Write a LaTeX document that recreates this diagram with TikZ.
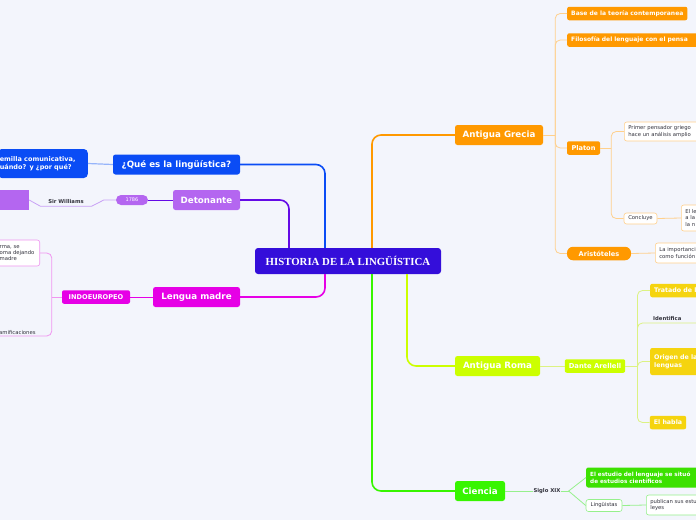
\documentclass[tikz,border=0pt]{standalone}
\usepackage{fontspec}
\setmainfont{DejaVu Sans}
\newfontfamily\serifroot{Liberation Serif}
\usetikzlibrary{calc}
\definecolor{bgcol}{RGB}{243,245,252}
\definecolor{rootcol}{RGB}{52,14,218}
\definecolor{grecol}{RGB}{255,153,0}
\definecolor{grelight}{RGB}{255,208,140}
\definecolor{quecol}{RGB}{10,76,245}
\definecolor{quelight}{RGB}{150,180,250}
\definecolor{detcol}{RGB}{180,102,240}
\definecolor{detline}{RGB}{100,10,230}
\definecolor{detlight}{RGB}{200,160,245}
\definecolor{lencol}{RGB}{230,0,230}
\definecolor{lenlight}{RGB}{240,150,240}
\definecolor{romcol}{RGB}{204,255,0}
\definecolor{romlight}{RGB}{220,242,130}
\definecolor{orocol}{RGB}{245,212,15}
\definecolor{ciecol}{RGB}{55,245,0}
\definecolor{cielight}{RGB}{150,240,140}
\definecolor{estcol}{RGB}{60,225,0}
\definecolor{notetext}{RGB}{50,50,60}

\begin{document}
\begin{tikzpicture}[x=1pt,y=-1pt,
  rootbox/.style={fill=rootcol,rounded corners=3pt,text=white,minimum width=186pt,minimum height=26pt,inner sep=0pt,
    font=\fontsize{10.8}{12}\serifroot\bfseries},
  topic/.style={rounded corners=2.5pt,text=white,minimum height=20pt,inner sep=0pt,
    font=\fontsize{8.7}{10}\selectfont\bfseries},
  sub/.style={rounded corners=2pt,text=white,minimum height=13.5pt,inner xsep=4pt,inner ysep=0pt,
    font=\fontsize{6}{7.2}\selectfont\bfseries},
  note/.style={draw,line width=0.6pt,fill=white,rounded corners=2.5pt,text=notetext,align=left,
    inner xsep=4pt,inner ysep=1pt,font=\fontsize{5.3}{6.4}\selectfont},
  plain/.style={text=notetext,inner sep=0pt,font=\fontsize{5.3}{6.4}\selectfont\bfseries},
  branch/.style={line width=1.6pt,rounded corners=9pt},
  twig/.style={line width=0.8pt,rounded corners=5pt}]
  \useasboundingbox (0,0) rectangle (696,520);
  \fill[bgcol] (0,0) rectangle (696,520);
  \clip (0,0) rectangle (696,520);

  % centre and main topics
  \node[rootbox] (root) at (348,261) {HISTORIA DE LA LINGÜÍSTICA};
  \node[topic,fill=grecol,minimum width=88pt] (grecia) at (499,135) {Antigua Grecia};
  \node[topic,fill=quecol,minimum width=127pt] (que) at (176.5,164.5) {¿Qué es la lingüística?};
  \node[topic,fill=detcol,minimum width=67pt] (deto) at (206.5,200) {Detonante};
  \node[topic,fill=lencol,minimum width=87pt] (lengua) at (196.5,297) {Lengua madre};
  \node[topic,fill=romcol,minimum width=85pt] (roma) at (497.5,366) {Antigua Roma};
  \node[topic,fill=ciecol,minimum width=50pt] (ciencia) at (480,491) {Ciencia};

  \draw[branch,quecol] ($(root.north)+(-23,0)$) |- (que.east);
  \draw[branch,detline] ($(root.north)+(-59,0)$) |- (deto.east);
  \draw[branch,grecol] ($(root.north)+(24,0)$) |- (grecia.west);
  \draw[branch,lencol] ($(root.south)+(-23,0)$) |- (lengua.east);
  \draw[branch,romcol] ($(root.south)+(59,0)$) |- (roma.west);
  \draw[branch,ciecol] ($(root.south)+(24,0)$) |- (ciencia.west);

  % left side
  \node[sub,fill=quecol,anchor=east,text width=86pt,inner xsep=2pt,minimum height=29pt,rounded corners=4pt,
    align=left,font=\fontsize{6.5}{8}\selectfont\bfseries] (semilla) at (88,163.5)
    {emilla comunicativa,\\uándo? y ¿por qué?};
  \draw[quelight,line width=1.2pt] (que.west) -- (semilla.east);

  \node[fill=detcol,rounded corners=5pt,minimum width=32pt,minimum height=10pt,inner sep=0pt,text=white,
    font=\fontsize{5}{6}\selectfont] (anio) at (132,200) {1786};
  \node[plain,minimum width=51pt,minimum height=9pt] (sirw) at (66,201.5) {Sir Williams};
  \node[fill=detcol,minimum width=40pt,minimum height=20pt,inner sep=0pt] (wbox) at (9,200) {};
  \draw[detline,line width=1pt] (deto.west) -- (anio.east);
  \draw[detlight,line width=0.8pt] (anio.west) -- ++(-12,0) -- (sirw.south east) -- (sirw.south west) -- (wbox.east);

  \node[sub,fill=lencol,minimum width=68pt,font=\fontsize{6.6}{8}\selectfont\bfseries] (indo) at (96,297) {INDOEUROPEO};
  \node[note,draw=lenlight,anchor=east,text width=38pt,inner xsep=2pt,minimum height=26pt] (forma) at (40,253)
    {rma, se\\oma dejando\\madre};
  \node[plain,anchor=south west,text width=50pt,inner ysep=1.5pt,font=\fontsize{5.3}{6.4}\selectfont] (ramif) at (-1,336) {amificaciones};
  \draw[lencol,line width=1pt] (lengua.west) -- (indo.east);
  \draw[lenlight,twig] (indo.west) -- ++(-10,0) coordinate (ik);
  \draw[lenlight,twig] (ik) |- (forma.east);
  \draw[lenlight,twig] (ik) |- (ramif.south west);

  % Antigua Grecia
  \node[sub,fill=grecol,anchor=west] (base) at (567,13.5) {Base de la teoría contemporanea};
  \node[sub,fill=grecol,anchor=west,text width=135pt,align=left] (filo) at (567,40) {Filosofía del lenguaje con el pensa};
  \node[sub,fill=grecol,minimum width=33pt,font=\fontsize{6.6}{8}\selectfont\bfseries] (platon) at (583.5,148) {Platon};
  \node[sub,fill=grecol,minimum width=64pt,rounded corners=6pt,font=\fontsize{6.6}{8}\selectfont\bfseries] (aristo) at (599,253.5) {Aristóteles};
  \draw[grelight,line width=1pt] (grecia.east) -- ++(12,0) coordinate (gk);
  \foreach \n in {base,filo,platon,aristo}
    \draw[grelight,twig] (gk) |- (\n.west);

  \node[note,draw=grelight,anchor=west,text width=80pt,minimum height=19pt] (primer) at (624,131.5)
    {Primer pensador griego\\hace un análisis amplio};
  \node[note,draw=grelight,minimum width=33pt,minimum height=11pt,inner ysep=0pt] (concluye) at (640.5,218.5) {Concluye};
  \node[note,draw=grelight,anchor=west,text width=30pt,minimum height=26pt] (ellen) at (681,218) {El le\\a la\\la n};
  \node[note,draw=grelight,anchor=west,text width=60pt,minimum height=20pt] (import) at (655,253)
    {La importanci\\como función};
  \draw[grelight,twig] (platon.east) -- ++(11,0) coordinate (pk);
  \draw[grelight,twig] (pk) |- (primer.west);
  \draw[grelight,twig] (pk) |- (concluye.west);
  \draw[grelight,twig] (concluye.east) -- (ellen.west);
  \draw[grelight,twig] (aristo.east) -- (import.west);

  % Antigua Roma
  \node[sub,fill=romcol,minimum width=60pt,font=\fontsize{6.8}{8}\selectfont\bfseries] (dante) at (595,366) {Dante Arellell};
  \node[sub,fill=orocol,anchor=west,text width=52pt,align=left,font=\fontsize{6.3}{7.6}\selectfont\bfseries] (tratado) at (650,290.5) {Tratado de l};
  \node[plain,anchor=south west,text width=56pt,inner xsep=3pt,inner ysep=2pt] (ident) at (650,323) {Identifica};
  \node[sub,fill=orocol,anchor=west,text width=52pt,align=left,minimum height=27pt,
    font=\fontsize{6.3}{7.6}\selectfont\bfseries] (origen) at (650,361.5) {Origen de la\\lenguas};
  \node[sub,fill=orocol,minimum width=36pt,font=\fontsize{6.3}{7.6}\selectfont\bfseries] (habla) at (668,422.5) {El habla};
  \draw[romlight,line width=1pt] (roma.east) -- (dante.west);
  \draw[romlight,twig] (dante.east) -- ++(12,0) coordinate (dk);
  \foreach \n in {tratado,origen,habla}
    \draw[romlight,twig] (dk) |- (\n.west);
  \draw[romlight,twig] (dk) |- (ident.south west) -- (ident.south east);

  % Ciencia
  \node[plain] (siglo) at (547,491) {Siglo XIX};
  \node[sub,fill=estcol,anchor=west,text width=140pt,align=left,minimum height=20pt,
    font=\fontsize{5.7}{7.2}\selectfont\bfseries] (estudio) at (586,477.5)
    {El estudio del lenguaje se situó\\de estudios científicos};
  \node[note,draw=cielight,minimum width=36pt,minimum height=12pt,inner ysep=0pt] (lingu) at (604,505.5) {Lingüistas};
  \node[note,draw=cielight,anchor=west,text width=60pt,minimum height=20pt] (publican) at (646,505)
    {publican sus estu\\leyes};
  \draw[cielight,line width=1pt] (ciencia.east) -- (siglo.west);
  \draw[cielight,line width=0.8pt] (siglo.east) -- ++(8,0) coordinate (sk);
  \draw[cielight,line width=0.8pt] (sk) -- (estudio.west);
  \draw[cielight,line width=0.8pt] (sk) -- (lingu.west);
  \draw[cielight,line width=0.8pt] (lingu.east) -- (publican.west);
\end{tikzpicture}
\end{document}
